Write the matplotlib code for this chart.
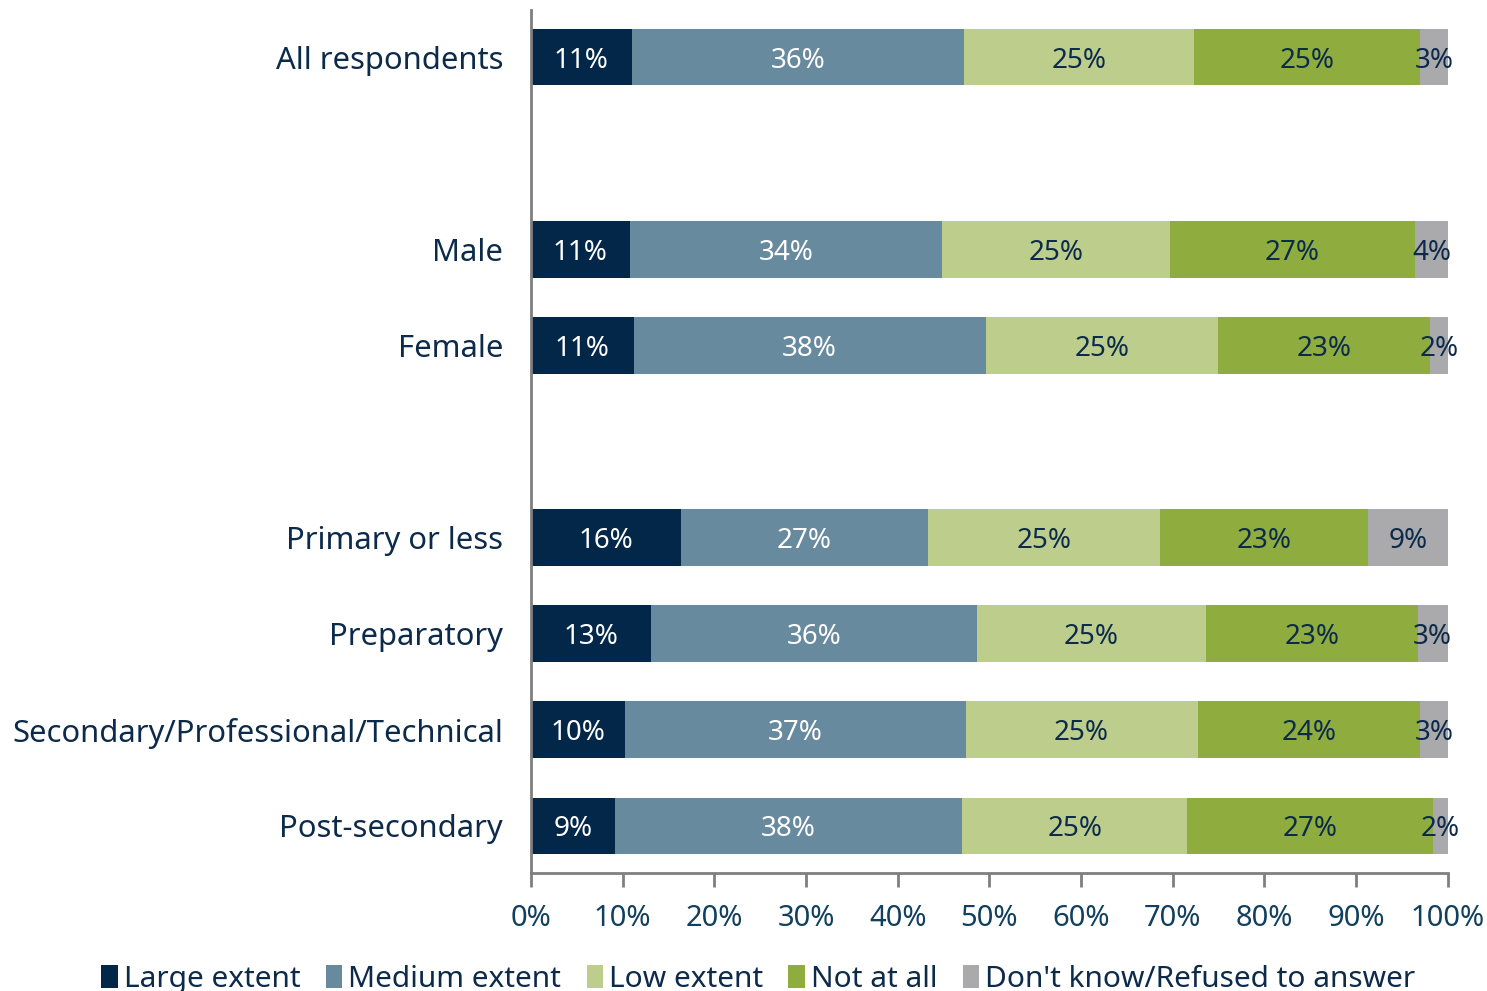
import matplotlib
matplotlib.use("Agg")
import matplotlib.pyplot as plt
import numpy as np

plt.rcParams["font.family"] = ["Noto Sans", "DejaVu Sans"]

categories = [
    "All respondents",
    "Male",
    "Female",
    "Primary or less",
    "Preparatory",
    "Secondary/Professional/Technical",
    "Post-secondary",
]
# row slots, leaving blank slots between the groups
positions = [0, 2, 3, 5, 6, 7, 8]

series = ["Large extent", "Medium extent", "Low extent", "Not at all", "Don't know/Refused to answer"]
large = [11.0, 10.8, 11.2, 16.4, 13.1, 10.3, 9.2]
medium = [36.2, 34.0, 38.4, 26.9, 35.6, 37.1, 37.8]
low = [25.1, 24.9, 25.3, 25.3, 24.9, 25.3, 24.6]
not_at_all = [24.7, 26.7, 23.1, 22.7, 23.1, 24.3, 26.8]
dont_know = [3.0, 3.6, 2.0, 8.7, 3.3, 3.0, 1.6]

colors = ["#022749", "#678a9f", "#bccd8c", "#8fad3f", "#aaaaac"]
label_colors = ["white", "white", "#0c2a4a", "#0c2a4a", "#0c2a4a"]
text_color = "#0c2a4a"
tick_color = "#11405f"

fig = plt.figure(figsize=(14.87, 9.91), dpi=100)
ax = fig.add_axes([0.357, 0.119, 0.6167, 0.871])

left = np.zeros(len(categories))
for name, vals, color, lc in zip(
    series, [large, medium, low, not_at_all, dont_know], colors, label_colors
):
    vals = np.array(vals)
    ax.barh(positions, vals, left=left, height=0.59, color=color, label=name)
    for y, l, v in zip(positions, left, vals):
        ax.text(l + v / 2, y, f"{v:.0f}%", ha="center", va="center_baseline",
                color=lc, fontsize=20)
    left += vals

ax.set_xlim(0, 100)
ax.set_ylim(8.49, -0.49)
ax.set_yticks(positions)
ax.set_yticklabels(categories, fontsize=22.3, color=text_color)
ax.tick_params(axis="y", length=0, pad=20)
ax.set_xticks(np.arange(0, 101, 10))
ax.set_xticklabels([f"{x}%" for x in range(0, 101, 10)], fontsize=21, color=tick_color)
ax.tick_params(axis="x", length=10, width=2, color="#7f7f7f", pad=12)

for side in ["top", "right"]:
    ax.spines[side].set_visible(False)
for side in ["left", "bottom"]:
    ax.spines[side].set_color("#7f7f7f")
    ax.spines[side].set_linewidth(2)

leg = fig.legend(
    loc="lower center", bbox_to_anchor=(0.51, -0.03), ncol=5, frameon=False,
    fontsize=21.5, handlelength=0.55, handleheight=0.85, handletextpad=0.2,
    columnspacing=0.85,
)
for t in leg.get_texts():
    t.set_color(text_color)

fig.savefig("out.png", dpi=100)
